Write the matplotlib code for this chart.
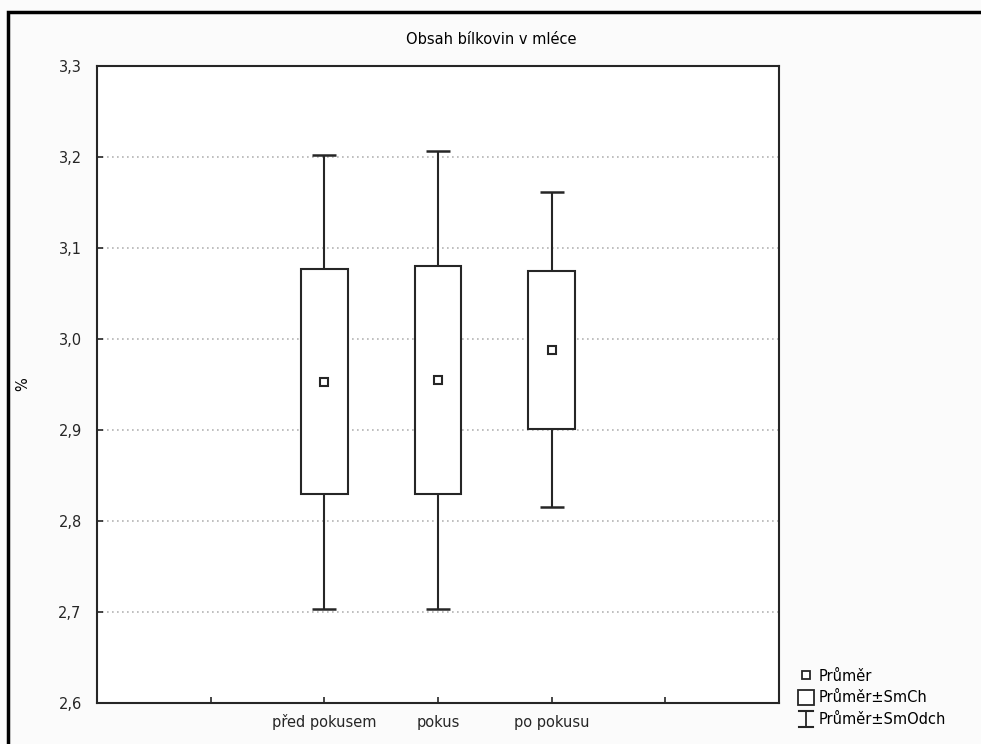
import numpy as np
import matplotlib.pyplot as plt
from matplotlib.patches import Rectangle
from matplotlib.lines import Line2D
from matplotlib.legend_handler import HandlerBase

cats = ['před pokusem', 'pokus', 'po pokusu']
means = [2.953, 2.955, 2.988]
sem = [0.1235, 0.1255, 0.087]   # Průměr ± SmCh
sd = [0.2495, 0.252, 0.173]     # Průměr ± SmOdch

plt.rcParams['font.family'] = ['DejaVu Sans']
plt.rcParams['font.size'] = 10.5

LC = '#262626'


class HandlerI(HandlerBase):
    def create_artists(self, legend, orig, xd, yd, w, h, fontsize, trans):
        cx = xd + w / 2
        lo, hi = yd - 0.35 * h, yd + 1.2 * h
        a = Line2D([cx, cx], [lo, hi], color=LC, lw=1.3, transform=trans)
        b = Line2D([cx - 0.4 * w, cx + 0.4 * w], [lo, lo], color=LC, lw=1.5, transform=trans)
        c = Line2D([cx - 0.4 * w, cx + 0.4 * w], [hi, hi], color=LC, lw=1.5, transform=trans)
        return [a, b, c]


class HandlerBox(HandlerBase):
    def create_artists(self, legend, orig, xd, yd, w, h, fontsize, trans):
        r = Rectangle((xd + 0.05 * w, yd - 0.3 * h), 0.9 * w, 1.5 * h, facecolor='white',
                      edgecolor=LC, lw=1.3, transform=trans)
        return [r]


fig = plt.figure(figsize=(9.81, 7.44), dpi=100)
fig.patch.set_facecolor('#fbfbfb')
ax = fig.add_axes([97 / 981, 41 / 744, 682 / 981, 637 / 744])
ax.set_facecolor('white')

x = np.arange(len(cats)) + 2
bw = 0.41
cw = 0.21
for xi, m, s, d in zip(x, means, sem, sd):
    ax.vlines(xi, m - d, m + d, color=LC, lw=1.5, zorder=2)
    ax.hlines([m - d, m + d], xi - cw / 2, xi + cw / 2, color=LC, lw=1.8, zorder=2)
    ax.add_patch(Rectangle((xi - bw / 2, m - s), bw, 2 * s, facecolor='white',
                           edgecolor=LC, lw=1.5, zorder=3))
ax.plot(x, means, 's', ms=6.3, mfc='white', mec=LC, mew=1.5, zorder=4, ls='none')

ax.set_xlim(0, 6)
ax.set_ylim(2.6, 3.3)
yt = np.round(np.arange(2.6, 3.31, 0.1), 1)
ax.set_yticks(yt)
ax.set_yticklabels([f'{v:.1f}'.replace('.', ',') for v in yt])
ax.set_xticks([1, 2, 3, 4, 5])
ax.set_xticklabels([''] + cats + [''])
ax.tick_params(axis='y', direction='in', length=4, width=1.2, pad=11, colors=LC)
ax.tick_params(axis='x', direction='in', length=4, width=1.2, pad=17, colors=LC)
for lab in ax.get_xticklabels():
    lab.set_verticalalignment('baseline')
ax.grid(axis='y', color='#b4b4b4', ls=(0, (1, 2)), lw=1.2, zorder=1)
ax.set_axisbelow(True)
for sp in ax.spines.values():
    sp.set_color(LC)
    sp.set_linewidth(1.5)

ax.set_ylabel('%', labelpad=0)
ax.yaxis.set_label_coords(-67 / 682, 0.5)
fig.text(491 / 981, 1 - 40 / 744, 'Obsah bílkovin v mléce', ha='center', va='center')

# outer frame
fig.add_artist(Rectangle((8 / 981, -0.1), 1.2, (744 - 12) / 744 + 0.1, transform=fig.transFigure,
                         facecolor='none', edgecolor='black', lw=2.5, zorder=0))

h_mean = Line2D([], [], marker='s', ms=6, mfc='white', mec=LC, mew=1.3, ls='none')
h_box = Rectangle((0, 0), 1, 1)
h_sd = Line2D([], [])
fig.legend([h_mean, h_box, h_sd], ['Průměr', 'Průměr±SmCh', 'Průměr±SmOdch'],
           handler_map={Rectangle: HandlerBox(), h_sd: HandlerI()},
           loc='lower left', bbox_to_anchor=(790 / 981, 10 / 744), frameon=False,
           handlelength=1.2, handletextpad=0.25, labelspacing=0.45, borderpad=0)

fig.savefig('out.png', dpi=100, facecolor=fig.get_facecolor())
